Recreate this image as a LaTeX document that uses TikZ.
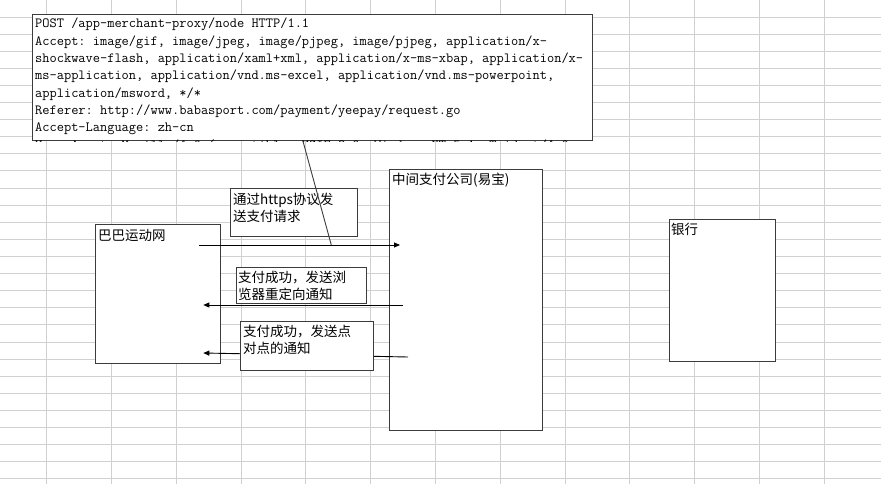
\documentclass[tikz,border=0pt]{standalone}
\usepackage{fontspec}
\usepackage{tikz}
\usetikzlibrary{arrows.meta, positioning, calc}
\newfontfamily\cjk{Noto Sans CJK SC}
\definecolor{sheetGrid}{HTML}{D0D0D0}
\definecolor{boxEdge}{HTML}{3C3C3C}
\tikzset{
  gridLine/.style={sheetGrid, line width=1pt},
  boxSheet/.style={rectangle, draw=boxEdge, fill=white, line width=1.3pt,
                   inner sep=0pt, anchor=north west},
  boxNote/.style={rectangle, draw=boxEdge, fill=white, line width=1.1pt,
                  inner sep=0pt, anchor=north west},
  txtCjk/.style={font=\cjk\fontsize{13.5}{17}\selectfont, align=left,
                 inner sep=0pt, anchor=north west},
  txtHttp/.style={font=\ttfamily\fontsize{14}{17.3}\selectfont\frenchspacing,
                  align=left, inner sep=0pt, anchor=north west},
  arrowMsg/.style={-{Triangle[length=6pt, width=5pt]}, black, line width=0.9pt},
}

\begin{document}
\begin{tikzpicture}[x=1pt, y=-1pt]
  \useasboundingbox (0,0) rectangle (881,484);
  % sheet grid
  \foreach \i in {0,...,12} \draw[gridLine] ({46.7+64.8*\i},0) -- ++(0,484);
  \foreach \j in {0,...,28} \draw[gridLine] (0,{17.1*\j}) -- ++(881,0);
  % request header
  \node[boxSheet, minimum width=560pt, minimum height=126pt] (http) at (32,14) {};
  \begin{scope}
    \clip (http.south west) rectangle (http.north east);
    \node[txtHttp] (httpText) at ($(http.north west)+(3,4)$)
      {POST /app-merchant-proxy/node HTTP/1.1\\
       Accept: image/gif, image/jpeg, image/pjpeg, image/pjpeg, application/x-\\
       shockwave-flash, application/xaml+xml, application/x-ms-xbap, application/x-\\
       ms-application, application/vnd.ms-excel, application/vnd.ms-powerpoint,\\
       application/msword, */*\\
       Referer: http://www.babasport.com/payment/yeepay/request.go\\
       Accept-Language: zh-cn\\
       User-Agent: Mozilla/4.0 (compatible; MSIE 8.0; Windows NT 5.1; Trident/4.0};
  \end{scope}
  % parties
  \node[boxSheet, minimum width=125pt, minimum height=139pt] (site) at (95,224) {};
  \node[txtCjk] (siteName) at ($(site.north west)+(3,5)$) {巴巴运动网};
  \node[boxSheet, minimum width=153pt, minimum height=261pt] (pay) at (389,169) {};
  \node[txtCjk] (payName) at ($(pay.north west)+(3,4)$) {中间支付公司(易宝)};
  \node[boxSheet, minimum width=106pt, minimum height=142pt] (bank) at (669,219) {};
  \node[txtCjk] (bankName) at ($(bank.north west)+(2,4)$) {银行};
  % messages
  \coordinate (reqFrom) at ($(site.north east)+(-22,21)$);
  \coordinate (reqTo) at ($(pay.north west)+(11,76)$);
  \coordinate (reqTap) at ($(site.north east)+(110,21)$);
  \coordinate (httpTail) at ($(http.south west)+(271,0)$);
  \coordinate (jumpFrom) at ($(pay.north west)+(14,136)$);
  \coordinate (jumpTo) at ($(site.north east)+(-18,81)$);
  \coordinate (p2pFrom) at ($(pay.north west)+(19,188)$);
  \coordinate (p2pTo) at ($(site.north east)+(-18,129)$);
  \draw[arrowMsg] (reqFrom) -- (reqTo);
  \draw[arrowMsg] (jumpFrom) -- (jumpTo);
  \draw[arrowMsg] (p2pFrom) -- (p2pTo);
  % notes on the arrows
  \node[boxNote, minimum width=127pt, minimum height=48pt] (noteReq) at (230,188) {};
  \node[txtCjk] (noteReqText) at ($(noteReq.north west)+(3,5)$)
    {通过https协议发\\送支付请求};
  \node[boxNote, minimum width=130pt, minimum height=36pt] (noteJump) at (236,267) {};
  \node[txtCjk] (noteJumpText) at ($(noteJump.north west)+(2,4)$)
    {支付成功，发送浏\\览器重定向通知};
  \node[boxNote, minimum width=133pt, minimum height=49pt] (noteP2p) at (240,321) {};
  \node[txtCjk] (noteP2pText) at ($(noteP2p.north west)+(3,4)$)
    {支付成功，发送点\\对点的通知};
  \draw[boxEdge, line width=0.9pt] (httpTail) -- (reqTap);
\end{tikzpicture}
\end{document}
